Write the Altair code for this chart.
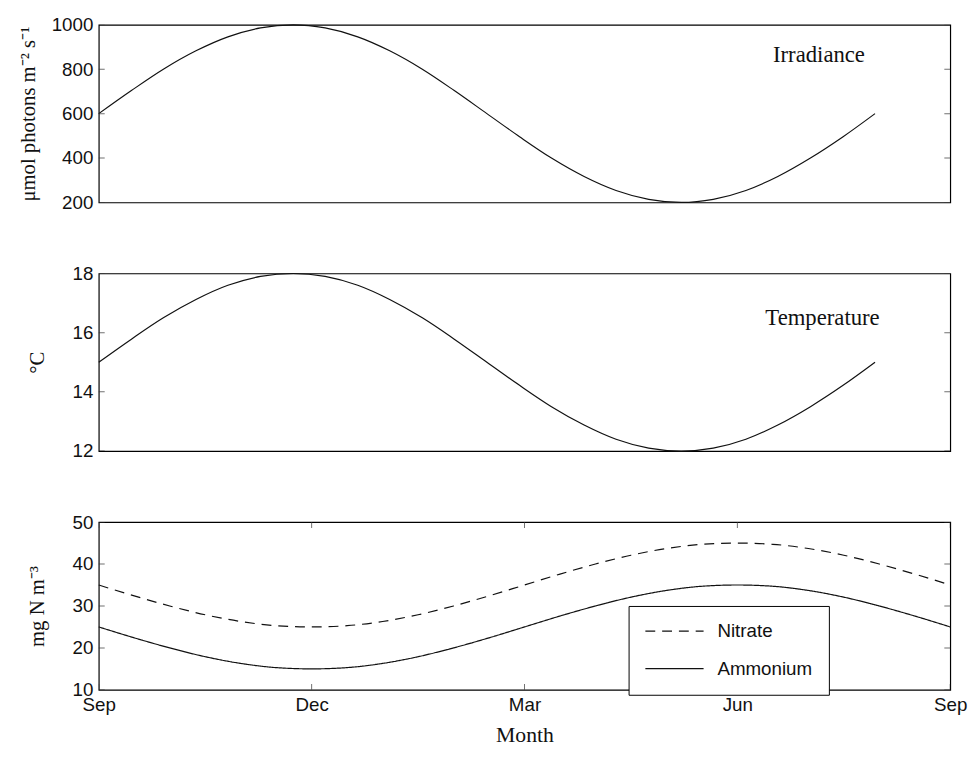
import altair as alt
import pandas as pd

# ---- data (x in months since September) ----
months_top = [0, 0.46, 0.91, 1.37, 1.82, 2.28, 2.74, 3.19, 3.65, 4.10, 4.56, 5.01, 5.47,
              5.93, 6.38, 6.84, 7.29, 7.75, 8.21, 8.66, 9.12, 9.57, 10.03, 10.49, 10.94]
irradiance = [600, 704, 800, 883, 946, 986, 1000, 986, 946, 883, 800, 704, 600,
              496, 400, 317, 254, 214, 200, 214, 254, 317, 400, 496, 600]
temperature = [15.0, 15.78, 16.5, 17.12, 17.6, 17.9, 18.0, 17.9, 17.6, 17.12, 16.5, 15.78, 15.0,
               14.22, 13.5, 12.88, 12.4, 12.1, 12.0, 12.1, 12.4, 12.88, 13.5, 14.22, 15.0]

months_bottom = [0, 0.5, 1, 1.5, 2, 2.5, 3, 3.5, 4, 4.5, 5, 5.5, 6,
                 6.5, 7, 7.5, 8, 8.5, 9, 9.5, 10, 10.5, 11, 11.5, 12]
nitrate = [35, 32.4, 30, 27.9, 26.3, 25.3, 25, 25.3, 26.3, 27.9, 30, 32.4, 35,
           37.6, 40, 42.1, 43.7, 44.7, 45, 44.7, 43.7, 42.1, 40, 37.6, 35]
ammonium = [25, 22.4, 20, 17.9, 16.3, 15.3, 15, 15.3, 16.3, 17.9, 20, 22.4, 25,
            27.6, 30, 32.1, 33.7, 34.7, 35, 34.7, 33.7, 32.1, 30, 27.6, 25]

series_names = ["Nitrate", "Ammonium"]
month_ticks = [0, 3, 6, 9, 12]
month_names = ["Sep", "Dec", "Mar", "Jun", "Sep"]
irr_ticks = [200, 400, 600, 800, 1000]
temp_ticks = [12, 14, 16, 18]
n_ticks = [10, 20, 30, 40, 50]

irr_label = {"text": "Irradiance", "month": 10.15, "value": 862}
temp_label = {"text": "Temperature", "month": 10.2, "value": 16.5}

X_DOMAIN = [0, 12]
W = 863
SANS = "Liberation Sans"
SERIF = "Liberation Serif"
INK = "#111111"


def y_axis(values, title, tpad):
    return alt.Axis(values=values, title=title, titlePadding=tpad, labelPadding=6, format="d",
                    ticks=False, tickSize=0, domain=False, grid=False)


def tick_layers(x_enc, y_enc, xvals, yvals, ydom):
    layers = []
    ydf = pd.DataFrame([{"month": e, "value": v} for v in yvals for e in X_DOMAIN])
    layers.append(alt.Chart(ydf).mark_tick(orient="horizontal", size=12, thickness=1,
                                           color="#333", clip=True).encode(x=x_enc, y=y_enc))
    if xvals:
        xdf = pd.DataFrame([{"month": m, "value": e} for m in xvals for e in ydom])
        layers.append(alt.Chart(xdf).mark_tick(orient="vertical", size=12, thickness=1,
                                               color="#333", clip=True).encode(x=x_enc, y=y_enc))
    return layers


def top_panel(values, ticks, domain, title, tpad, label):
    df = pd.DataFrame({"month": months_top, "value": values})
    x_enc = alt.X("month:Q", scale=alt.Scale(domain=X_DOMAIN, nice=False, zero=False), axis=None)
    y_enc = alt.Y("value:Q", scale=alt.Scale(domain=domain, nice=False, zero=False),
                  axis=y_axis(ticks, title, tpad))
    line = alt.Chart(df).mark_line(color=INK, strokeWidth=1.2, interpolate="monotone").encode(
        x=x_enc, y=y_enc)
    txt = alt.Chart(pd.DataFrame([label])).mark_text(
        font=SERIF, fontSize=23, color=INK, align="center", baseline="middle").encode(
        x=x_enc, y=y_enc, text="text:N")
    return alt.layer(line, *tick_layers(x_enc, y_enc, [], ticks, domain), txt).properties(
        width=W, height=180)


top = top_panel(irradiance, irr_ticks, [200, 1000], "μmol photons  m⁻² s⁻¹", 13, irr_label)
mid = top_panel(temperature, temp_ticks, [12, 18], "°C", 25, temp_label)

# bottom panel
bdf = pd.concat([
    pd.DataFrame({"month": months_bottom, "value": nitrate, "series": series_names[0]}),
    pd.DataFrame({"month": months_bottom, "value": ammonium, "series": series_names[1]}),
])
label_expr = "[" + ",".join(f"'{m}'" for m in month_names) + "][round(datum.value/3)]"
xb = alt.X("month:Q", scale=alt.Scale(domain=X_DOMAIN, nice=False, zero=False),
           axis=alt.Axis(values=month_ticks, labelExpr=label_expr, title="Month",
                         titleFont=SERIF, titleFontSize=22, titlePadding=10,
                         labelPadding=6, labelFlush=False, labelOverlap=False,
                         ticks=False, tickSize=0, domain=False, grid=False))
yb = alt.Y("value:Q", scale=alt.Scale(domain=[10, 50], nice=False, zero=False),
           axis=y_axis(n_ticks, "mg N  m⁻³", 25))
lines = alt.Chart(bdf).mark_line(color=INK, strokeWidth=1.2, interpolate="monotone").encode(
    x=xb, y=yb,
    strokeDash=alt.StrokeDash(
        "series:N",
        scale=alt.Scale(domain=series_names, range=[[10, 7], [1, 0]]),
        legend=alt.Legend(title=None, orient="none", legendX=537, legendY=85,
                          strokeColor="black", fillColor="white", padding=16,
                          symbolType="stroke", symbolSize=3481, symbolStrokeWidth=1.2,
                          symbolStrokeColor=INK, labelFont=SANS, labelFontSize=19,
                          labelColor=INK, labelOffset=13, rowPadding=18, clipHeight=19)),
)
bottom = alt.layer(lines, *tick_layers(xb, yb, month_ticks, n_ticks, [10, 50])).properties(
    width=W, height=170)

chart = (
    alt.vconcat(top, mid, bottom, spacing=51)
    .resolve_legend(strokeDash="independent")
    .properties(padding={"left": 9, "top": 2, "right": 0, "bottom": 5})
    .configure_view(stroke="black", strokeWidth=1.2)
    .configure_axis(labelFont=SANS, labelFontSize=19, labelColor=INK,
                    titleFont=SERIF, titleFontSize=21, titleFontWeight="normal",
                    titleColor=INK)
)

chart.save("out.html", embed_options={"renderer": "svg", "actions": False})
